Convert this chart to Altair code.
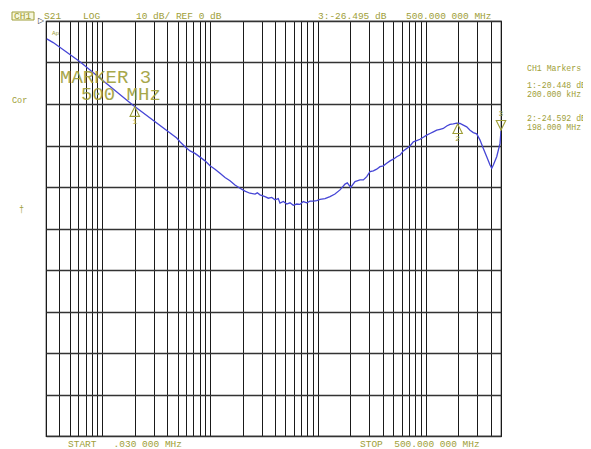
import altair as alt
import pandas as pd

FREQ_MHZ = [0.0305, 0.035, 0.062, 0.19, 0.49, 0.525, 0.585, 0.651, 0.724, 0.806, 0.897,
            0.998, 1.11, 1.235, 1.374, 1.529, 1.70, 1.893, 2.106, 2.34, 2.61, 2.74, 2.90,
            3.23, 3.47, 3.73, 4.0, 4.29, 4.45, 4.78, 5.14, 5.51, 5.91, 6.36, 6.82, 7.32,
            7.87, 8.45, 9.07, 9.75, 10.46, 11.64, 12.95, 14.4, 16.04, 17.85, 18.74, 20.16,
            22.1, 24.6, 26.4, 28.4, 30.44, 32.7, 35.1, 37.7, 40.5, 43.5, 46.7, 50.1, 53.9,
            57.8, 62.0, 66.7, 71.6, 76.8, 82.6, 88.6, 95.1, 102.2, 109.7, 117.8, 126.6,
            135.9, 145.8, 156.8, 168.2, 180.5, 194.1, 208.3, 223.5, 240.3, 257.9, 276.7,
            297.6, 319.3, 342.7, 368.5, 395.5, 410.2, 424.4, 456.2, 489.5, 500.0]
S21_DB = [-4.3, -5.2, -9.8, -20.2, -28.2, -29.1, -30.3, -31.3, -31.9, -32.8, -33.7,
          -34.9, -35.7, -36.7, -37.7, -38.5, -39.5, -40.3, -41.0, -41.5, -41.7, -41.4, -41.9,
          -42.3, -42.7, -42.5, -43.1, -42.8, -43.9, -43.5, -44.1, -43.8, -44.4, -44.1, -44.2, -43.5,
          -43.8, -43.4, -43.4, -43.3, -43.0, -42.8, -42.3, -41.7, -40.7, -39.3, -39.0, -40.1,
          -38.7, -38.3, -38.3, -37.5, -36.3, -36.1, -35.7, -35.1, -34.9, -34.3, -33.7, -33.3, -32.7,
          -32.3, -31.3, -30.7, -30.1, -29.1, -28.8, -28.5, -28.0, -27.5, -27.1, -26.7, -26.3,
          -26.1, -25.9, -25.3, -24.9, -24.8, -24.6, -24.7, -25.1, -25.5, -26.3, -26.9,
          -27.2, -28.7, -30.7, -32.7, -34.7, -35.5, -34.7, -32.7, -29.5, -26.5]

MARKER_ID = ["1", "2", "3"]
MARKER_F = [0.2, 198.0, 500.0]
MARKER_DB = [-20.448, -24.592, -26.495]

GRID_MANTISSA = [1, 2, 3, 4, 5, 6, 7, 8, 9]
GRID_DECADES = [0.01, 0.1, 1, 10, 100]
F_START, F_STOP = 0.03, 500.0
Y_TICKS = [0, -10, -20, -30, -40, -50, -60, -70, -80, -90, -100]

grid_f = [round(m * d, 6) for d in GRID_DECADES for m in GRID_MANTISSA
          if F_START <= m * d <= F_STOP]

OLIVE = "#9e9e38"
FONT = "Liberation Mono"
NB = "\u00a0"
W, H = 455, 415

trace_df = pd.DataFrame({"f": FREQ_MHZ, "db": S21_DB})
mk_df = pd.DataFrame({"id": MARKER_ID, "f": MARKER_F, "db": MARKER_DB})

xs = alt.Scale(type="log", domain=[F_START, F_STOP], nice=False)
ys = alt.Scale(domain=[-100, 0], nice=False)

xaxis = alt.Axis(values=grid_f, grid=True, gridColor="#1a1a1a", gridOpacity=1, gridWidth=1,
                 labels=False, ticks=False, domain=False, title=None)
yaxis = alt.Axis(values=Y_TICKS, grid=True, gridColor="#333333", gridOpacity=1, gridWidth=1.5,
                 labels=False, ticks=False, domain=False, title=None)

trace = alt.Chart(trace_df).mark_line(color="#4646d6", strokeWidth=1.3, clip=True).encode(
    x=alt.X("f:Q", scale=xs, axis=xaxis),
    y=alt.Y("db:Q", scale=ys, axis=yaxis),
)

# marker symbols
up_tri = "M0,0L-1,2L1,2Z"
down_tri = "M0,0L-1,-2L1,-2Z"
mk_up = alt.Chart(mk_df[mk_df.id != "3"]).mark_point(
    shape=up_tri, filled=False, color=OLIVE, size=90, strokeWidth=1.1, opacity=1).encode(
    x=alt.X("f:Q", scale=xs), y=alt.Y("db:Q", scale=ys), yOffset=alt.value(1))
mk_down = alt.Chart(mk_df[mk_df.id == "3"]).mark_point(
    shape=down_tri, filled=False, color=OLIVE, size=90, strokeWidth=1.1, opacity=1).encode(
    x=alt.X("f:Q", scale=xs), y=alt.Y("db:Q", scale=ys), yOffset=alt.value(-1))
mk_lab_up = alt.Chart(mk_df[mk_df.id != "3"]).mark_text(
    font=FONT, fontSize=8, color=OLIVE, dy=16).encode(
    x=alt.X("f:Q", scale=xs), y=alt.Y("db:Q", scale=ys), text="id:N")
mk_lab_down = alt.Chart(mk_df[mk_df.id == "3"]).mark_text(
    font=FONT, fontSize=8, color=OLIVE, dy=-17).encode(
    x=alt.X("f:Q", scale=xs), y=alt.Y("db:Q", scale=ys), text="id:N")


def label(txt, x, y, size=9.5, align="left", color=OLIVE, baseline="alphabetic", opacity=1):
    return alt.Chart(alt.Data(values=[{}])).mark_text(
        text=txt, font=FONT, fontSize=size, color=color, align=align, baseline=baseline,
        opacity=opacity,
    ).encode(x=alt.value(x), y=alt.value(y))


# coordinates below are relative to the plot area's top-left corner
ch1_box = alt.Chart(alt.Data(values=[{}])).mark_rect(
    fill="#f7f7dc", stroke=OLIVE, strokeWidth=1).encode(
    x=alt.value(-34), x2=alt.value(-12), y=alt.value(-9), y2=alt.value(-1))

texts = [
    label("CH1", -32, -2.5),
    label("S21", -2, -2),
    label("LOG", 37, -2),
    label("10 dB/ REF 0 dB", 90, -2),
    label("3:-26.495 dB", 272, -2),
    label("500.000 000 MHz", 360, -2),
    label("START" + NB * 3 + ".030 000 MHz", 22, 426),
    label("STOP" + NB * 2 + "500.000 000 MHz", 314, 426),
    label("Cor", -34, 82, size=8.5),
    label("†", -27, 191, size=8.5),
    label("CH1 Markers", 481, 50, size=8.2),
    label("1:-20.448 dB", 481, 67, size=8.2),
    label(NB + "200.000 kHz", 481, 76, size=8.2),
    label("2:-24.592 dB", 481, 100, size=8.2),
    label(NB + "198.000 MHz", 481, 109, size=8.2),
    label("MARKER 3", 14, 62, size=19, opacity=0.9),
    label("500 MHz", 35, 79, size=19, opacity=0.9),
    label("Ap", 6, 14, size=6),
    label("▷", -8, 0, size=8, baseline="middle", color="#333333"),
]

chart = alt.layer(trace, mk_up, mk_down, mk_lab_up, mk_lab_down, ch1_box, *texts).properties(
    width=W, height=H,
    autosize=alt.AutoSizeParams(type="none"),
    padding={"left": 38, "top": 13, "right": 82, "bottom": 20},
    background="white",
).configure_view(stroke="#111111", strokeWidth=1.2)

chart.save("out.html", embed_options={"renderer": "svg", "actions": False})
